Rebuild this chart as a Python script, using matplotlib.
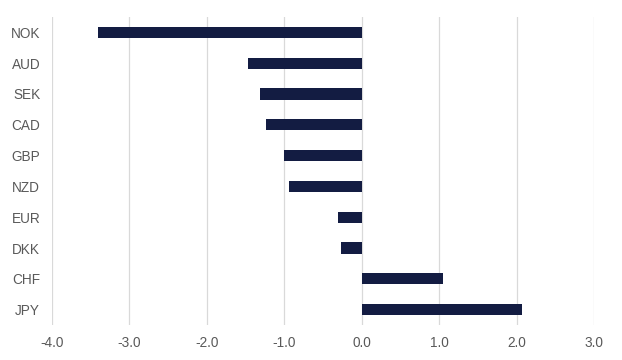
import matplotlib.pyplot as plt
import numpy as np

currencies = ['NOK', 'AUD', 'SEK', 'CAD', 'GBP', 'NZD', 'EUR', 'DKK', 'CHF', 'JPY']
values = [-3.40, -1.47, -1.32, -1.23, -1.01, -0.94, -0.31, -0.27, 1.05, 2.07]
xticks = [-4.0, -3.0, -2.0, -1.0, 0.0, 1.0, 2.0, 3.0]

plt.rcParams['font.family'] = ['Liberation Sans', 'DejaVu Sans']

fig = plt.figure(figsize=(6.22, 3.6), dpi=100)
ax = fig.add_axes([0.0836, 0.097, 0.8714, 0.856])

y = np.arange(len(currencies))
ax.barh(y, values, height=0.36, color='#131c42', zorder=3)

ax.set_xlim(-4, 3)
ax.set_ylim(len(currencies) - 0.5, -0.5)
ax.set_yticks(y)
ax.set_yticklabels(currencies)
ax.set_xticks(xticks)
ax.set_xticklabels([f'{t:.1f}' for t in xticks])

ax.grid(axis='x', color='#d9d9d9', linewidth=0.9, zorder=0)
ax.grid(axis='y', visible=False)
for s in ax.spines.values():
    s.set_visible(False)
ax.tick_params(length=0, labelsize=9.8, labelcolor='#595959')
ax.tick_params(axis='y', pad=8.5)
ax.tick_params(axis='x', pad=8)

fig.savefig('out.png', dpi=100)
